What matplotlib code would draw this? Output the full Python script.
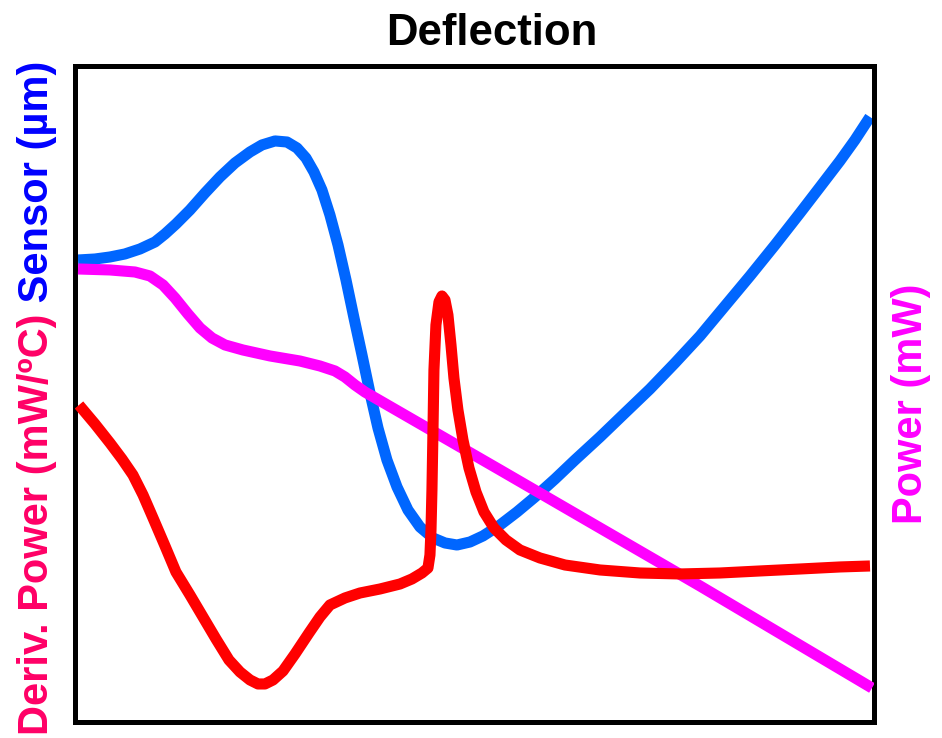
import matplotlib.pyplot as plt

# x positions are in % of the scan range (no tick labels shown on the chart)
sensor_x = [0.38, 2.50, 4.38, 6.25, 8.13, 10.01, 11.26, 12.63, 14.38, 16.26, 18.14, 20.01,
            21.89, 23.39, 25.02, 26.52, 27.77, 28.89, 29.89, 30.89, 31.89, 32.90, 33.90,
            34.90, 35.90, 36.90, 37.90, 39.02, 40.28, 41.65, 43.15, 44.78, 46.28, 47.78,
            49.41, 51.03, 53.16, 55.29, 57.54, 60.04, 62.54, 65.67, 68.79, 71.92, 75.05,
            78.18, 81.30, 84.43, 87.56, 90.69, 93.19, 95.68, 97.56, 99.44]
sensor_y = [70.48, 70.63, 70.94, 71.40, 72.16, 73.23, 74.45, 75.97, 78.11, 80.70, 83.15, 85.28,
            86.96, 88.03, 88.64, 88.48, 87.57, 86.04, 83.91, 81.16, 77.35, 72.77, 67.43,
            61.63, 55.99, 50.19, 44.85, 39.97, 35.85, 32.34, 29.75, 28.07, 27.31, 27.00,
            27.46, 28.38, 30.05, 32.04, 34.33, 37.07, 39.97, 43.48, 47.14, 50.80, 54.77,
            58.89, 63.46, 68.04, 72.77, 77.65, 81.62, 85.59, 88.79, 92.30]

power_x = [0.38, 4.38, 7.50, 9.38, 11.01, 12.51, 14.13, 15.64, 17.14, 18.76, 21.01, 24.39,
           28.14, 30.64, 32.52, 33.77, 35.02, 36.27, 53.16, 78.18, 99.69]
power_y = [69.11, 68.96, 68.65, 68.04, 66.67, 64.69, 62.24, 60.11, 58.58, 57.52, 56.75, 55.84,
           55.07, 54.31, 53.55, 52.63, 51.41, 50.34, 38.45, 20.75, 5.19]

deriv_x = [0.50, 2.50, 4.38, 5.88, 7.25, 8.51, 9.76, 11.26, 12.63, 14.38, 16.01, 17.64,
           19.26, 20.64, 21.89, 22.89, 23.76, 24.77, 26.02, 27.52, 29.27, 30.64, 31.89,
           33.77, 35.65, 38.15, 40.65, 42.15, 43.40, 44.15, 44.40, 44.53, 44.65, 44.78,
           44.90, 45.15, 45.53, 45.90, 46.28, 46.65, 47.03, 47.40, 47.90, 48.53, 49.28,
           50.16, 51.16, 52.41, 53.91, 55.66, 58.16, 61.29, 65.67, 70.67, 75.67, 80.67,
           85.68, 90.69, 95.68, 99.44]
deriv_y = [48.36, 45.46, 42.56, 40.12, 37.68, 34.63, 31.12, 26.85, 22.88, 19.38, 16.02, 12.66,
           9.46, 7.63, 6.41, 5.80, 5.80, 6.41, 7.78, 10.37, 13.58, 16.02, 17.85,
           18.92, 19.68, 20.29, 21.05, 21.82, 22.73, 23.49, 25.48, 29.29, 35.39, 44.55,
           53.70, 60.57, 64.08, 64.99, 64.38, 62.09, 57.52, 52.48, 47.60, 43.02, 38.75,
           35.09, 32.04, 29.60, 27.77, 26.24, 25.02, 23.95, 23.19, 22.73, 22.58, 22.73,
           23.04, 23.34, 23.65, 23.80]

plt.rcParams['font.family'] = ['Liberation Sans', 'DejaVu Sans']

fig = plt.figure(figsize=(9.42, 7.38), dpi=100)
ax = fig.add_axes([0.0796, 0.0217, 0.8487, 0.8882])

line_kw = dict(lw=8, solid_joinstyle='round', solid_capstyle='butt')
ax.plot(sensor_x, sensor_y, color='#0066ff', zorder=2, **line_kw)
ax.plot(power_x, power_y, color='#ff00ff', zorder=3, **line_kw)
ax.plot(deriv_x, deriv_y, color='#ff0000', zorder=4, **line_kw)

ax.set_xlim(0, 100)
ax.set_ylim(0, 100)
ax.set_xticks([])
ax.set_yticks([])
for s in ax.spines.values():
    s.set_linewidth(3.6)

fig.text(0.522, 1 - 45 / 738, 'Deflection', ha='center', va='baseline',
         fontsize=31.5, fontweight='bold')

# left label in two colours, stacked along the axis
t1 = fig.text(0.0393, 0.004, 'Deriv. Power (mW/ºC)', rotation=90, ha='center',
              va='bottom', fontsize=30, fontweight='bold', color='#ff0066')
fig.canvas.draw()
bb = t1.get_window_extent().transformed(fig.transFigure.inverted())
fig.text(0.0393, bb.y1, ' Sensor (µm)', rotation=90, ha='center', va='bottom',
         fontsize=30, fontweight='bold', color='#0000ff')

fig.text(0.967, 0.4526, 'Power (mW)', rotation=90, ha='center', va='center',
         fontsize=30, fontweight='bold', color='#ff00ff')

fig.savefig('out.png', dpi=100)
